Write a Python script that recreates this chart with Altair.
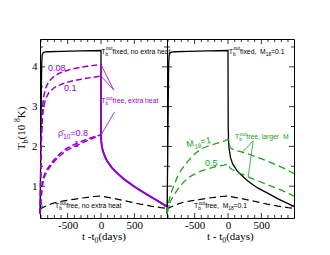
import altair as alt
import pandas as pd

# ------------------------------------------------------------------ data
# t - t0 (days) and T_b (1e8 K)
fixed_t = [-915, -905, -897, -892, -888, -882, -870, -850, -800, -600, -300, 0]
fixed_v = [0.30, 1.60, 3.00, 3.80, 4.15, 4.30, 4.35, 4.37, 4.38, 4.39, 4.40, 4.41]

left_decay_t = [0, 5, 15, 30, 60, 100, 165, 250, 350, 500, 650, 800, 900, 990]
left_decay_v = [2.29, 2.12, 1.98, 1.88, 1.74, 1.61, 1.46, 1.32, 1.17, 0.99, 0.83, 0.68, 0.58, 0.49]

right_decay_t = [0, 1, 3, 8, 15, 39, 70, 139, 250, 337, 450, 587, 750, 900, 990]
right_decay_v = [4.41, 3.50, 2.55, 2.15, 1.96, 1.71, 1.56, 1.38, 1.20, 1.08, 0.95, 0.83, 0.68, 0.56, 0.49]

free_t = [-915, -880, -800, -735, -657, -560, -485, -409, -300, -200, -100, 0,
          100, 200, 337, 450, 587, 750, 900, 990]
free_v = [0.42, 0.46, 0.52, 0.56, 0.60, 0.63, 0.65, 0.67, 0.70, 0.72, 0.74, 0.75,
          0.72, 0.69, 0.64, 0.60, 0.55, 0.50, 0.46, 0.44]

heat_t = [-912, -905, -895, -880, -860, -830, -780, -700, -600, -450, -300, -150, 0]
p008_v = [0.30, 1.20, 2.30, 2.95, 3.25, 3.47, 3.64, 3.77, 3.86, 3.94, 3.99, 4.03, 4.06]
p01_v = [0.30, 1.10, 2.10, 2.70, 3.00, 3.20, 3.36, 3.48, 3.56, 3.64, 3.69, 3.73, 3.77]

rho_t = [-912, -900, -885, -866, -841, -800, -766, -716, -665, -600, -515, -415, -315, -215, -115, 0]
rho08_v = [0.30, 0.70, 1.00, 1.20, 1.32, 1.45, 1.53, 1.64, 1.74, 1.84, 1.95, 2.04, 2.11, 2.18, 2.24, 2.29]
rho1_v = [0.30, 0.66, 0.95, 1.15, 1.27, 1.40, 1.48, 1.59, 1.69, 1.79, 1.90, 1.99, 2.06, 2.14, 2.21, 2.29]

drop_t = [0, 0]
drop_v = [4.06, 2.29]

m1_t = [-912, -900, -880, -850, -806, -757, -707, -600, -500, -409, -300, -160, -60, 0,
        30, 64, 200, 337, 587, 800, 990]
m1_v = [0.30, 0.50, 0.67, 0.85, 1.04, 1.24, 1.40, 1.63, 1.81, 1.93, 2.01, 2.08, 2.13, 2.18,
        1.98, 1.93, 1.86, 1.79, 1.63, 1.48, 1.32]
m05_t = [-912, -900, -880, -850, -806, -750, -657, -550, -409, -300, -160, -60, 0,
         30, 60, 200, 337, 587, 800, 990]
m05_v = [0.30, 0.42, 0.55, 0.67, 0.79, 0.93, 1.12, 1.26, 1.38, 1.44, 1.50, 1.53, 1.56,
         1.46, 1.42, 1.31, 1.21, 1.04, 0.90, 0.75]

# leader lines (t1, v1, t2, v2)
left_leaders = [(5, 4.04, 190, 3.42), (5, 3.76, 190, 3.42), (5, 2.30, 205, 2.87)]
right_leaders = [(378, 2.14, 213, 1.85), (378, 2.14, 303, 1.24)]

x_major = [-500, 0, 500]
x_minor = [-900, -800, -700, -600, -400, -300, -200, -100, 100, 200, 300, 400, 600, 700, 800, 900]
y_major = [1, 2, 3, 4]
y_minor = [0.5, 1.5, 2.5, 3.5, 4.5]

# ------------------------------------------------------------------ style
W, H = 127, 179
XDOM = [-915, 990]
YDOM = [0.2, 4.7]
PURPLE = "#9400D3"
GREEN = "#22A022"
BLACK = "#000000"
SANS = "Liberation Sans"
SERIF = "Liberation Serif"

HELV = {' ': 278, 'a': 556, 'b': 556, 'c': 500, 'd': 556, 'e': 556, 'f': 278, 'g': 556,
        'h': 556, 'i': 222, 'l': 222, 'n': 556, 'o': 556, 'r': 333, 's': 500, 't': 278,
        'u': 556, 'x': 500, 'y': 500, 'T': 611, 'M': 833, 'Ṁ': 833, ',': 278, '.': 278,
        '=': 584, 'ρ': 580, '\u0304': 0, '(': 333, ')': 333, '-': 333}
TIMES = {' ': 250, 't': 278, '-': 333, '(': 333, ')': 333, 'd': 500, 'a': 444, 'y': 500,
         's': 389, 'T': 611, 'b': 500, 'K': 722}


def tw(s, size, table, default):
    return sum(table.get(c, default) for c in s) * size / 1000.0


XAXIS = alt.Axis(values=x_major, labelExpr="'' + datum.value", ticks=False, domain=False,
                 grid=False, labelFont=SERIF, labelFontSize=11, labelPadding=1,
                 labelColor="black", title=None)
YAXIS = alt.Axis(values=y_major, ticks=False, domain=False, grid=False, labelFont=SERIF,
                 labelFontSize=11, labelPadding=3, labelColor="black", title=None)


def X(field="t"):
    return alt.X(f"{field}:Q", scale=alt.Scale(domain=XDOM, nice=False, zero=False), axis=XAXIS)


def Y(yaxis, field="v"):
    return alt.Y(f"{field}:Q", scale=alt.Scale(domain=YDOM, nice=False, zero=False), axis=yaxis)


def rich(pieces, size, color, font, table, default, data, enc, angle=0):
    layers = []
    pos = 0.0

    def piece(txt, dx, dy, fs):
        return alt.Chart(data).mark_text(text=txt, align="left", baseline="alphabetic",
                                         dx=round(dx, 2), dy=round(dy, 2), fontSize=round(fs, 2),
                                         font=font, color=color, angle=angle).encode(**enc)

    for p in pieces:
        kind = p[0]
        if kind == "n":
            layers.append(piece(p[1], pos, 0, size))
            pos += tw(p[1], size, table, default)
        elif kind == "sub":
            s = size * 0.7
            layers.append(piece(p[1], pos, size * 0.3, s))
            pos += tw(p[1], s, table, default)
        elif kind == "sup":
            s = size * 0.7
            layers.append(piece(p[1], pos, -size * 0.45, s))
            pos += tw(p[1], s, table, default)
        elif kind == "ss":
            s = size * 0.7
            layers.append(piece(p[1], pos, size * 0.3, s))
            layers.append(piece(p[2], pos + 0.5, -size * 0.5, s))
            pos += max(tw(p[1], s, table, default), tw(p[2], s, table, default) + 0.5)
    return layers


def data_label(t, v, pieces, size, color, yaxis, angle=0):
    df = pd.DataFrame({"t": [t], "v": [v]})
    return rich(pieces, size, color, SANS, HELV, 556, df, dict(x=X(), y=Y(yaxis)), angle)


def pix_label(px, py, pieces, size, angle=0):
    df = pd.DataFrame({"t": [0]})
    return rich(pieces, size, "black", SERIF, TIMES, 500, df,
                dict(x=alt.value(px), y=alt.value(py)), angle)


def line(t, v, color, yaxis, dash=None, width=1.2):
    df = pd.DataFrame({"t": t, "v": v, "i": list(range(len(t)))})
    mk = dict(color=color, strokeWidth=width)
    if dash:
        mk["strokeDash"] = dash
    return alt.Chart(df).mark_line(**mk).encode(x=X(), y=Y(yaxis), order="i:Q")


def leaders(segs, color, yaxis):
    df = pd.DataFrame(segs, columns=["t", "v", "t2", "v2"])
    return alt.Chart(df).mark_rule(color=color, strokeWidth=0.8).encode(
        x=X(), y=Y(yaxis), x2="t2:Q", y2="v2:Q")


def ticks(yaxis):
    out = []
    for vals, ln in ((x_major, 5), (x_minor, 3)):
        df = pd.DataFrame({"t": vals})
        out.append(alt.Chart(df).mark_rule(color="black", strokeWidth=0.8).encode(
            x=X(), y=alt.value(H), y2=alt.value(H - ln)))
        out.append(alt.Chart(df).mark_rule(color="black", strokeWidth=0.8).encode(
            x=X(), y=alt.value(0), y2=alt.value(ln)))
    for vals, ln in ((y_major, 5), (y_minor, 3)):
        df = pd.DataFrame({"v": vals})
        out.append(alt.Chart(df).mark_rule(color="black", strokeWidth=0.8).encode(
            y=Y(yaxis), x=alt.value(0), x2=alt.value(ln)))
        out.append(alt.Chart(df).mark_rule(color="black", strokeWidth=0.8).encode(
            y=Y(yaxis), x=alt.value(W - ln), x2=alt.value(W)))
    return out


TB = [("n", "T"), ("ss", "b", "out")]

# ------------------------------------------------------------------ left panel
ya = YAXIS
left_layers = ticks(ya) + [
    line(free_t, free_v, BLACK, ya, dash=[7, 4], width=1.2),
    line(fixed_t + left_decay_t, fixed_v + left_decay_v, BLACK, ya, width=1.3),
    line(heat_t, p008_v, PURPLE, ya, dash=[6, 3], width=1.5),
    line(heat_t, p01_v, PURPLE, ya, dash=[6, 3], width=1.5),
    line(rho_t, rho08_v, PURPLE, ya, dash=[6, 3], width=1.5),
    line(rho_t, rho1_v, PURPLE, ya, dash=[6, 3], width=1.5),
    line(drop_t, drop_v, PURPLE, ya, width=1.5),
    line(left_decay_t, left_decay_v, PURPLE, ya, width=2.0),
    leaders(left_leaders, PURPLE, ya),
]
left_layers += data_label(5, 4.33, TB + [("n", " fixed, no extra heat")], 6.8, BLACK, ya)
left_layers += data_label(-795, 3.90, [("n", "0.08")], 9, PURPLE, ya)
left_layers += data_label(-555, 3.40, [("n", "0.1")], 9, PURPLE, ya)
left_layers += data_label(-645, 2.26, [("n", "ρ\u0304"), ("sub", "10"), ("n", "=0.8")], 9, PURPLE, ya)
left_layers += data_label(-405, 1.98, [("n", "1")], 9, PURPLE, ya)
left_layers += data_label(5, 3.08, TB + [("n", " free, extra heat")], 6.8, PURPLE, ya)
left_layers += data_label(-690, 0.44, TB + [("n", " free, no extra heat")], 6.8, BLACK, ya)
left_layers += pix_label(42, H + 22, [("n", "t -t"), ("sub", "0"), ("n", "(days)")], 11)
left_layers += pix_label(-15, 111, [("n", "T"), ("sub", "b"), ("n", " (10"), ("sup", "8"), ("n", " K)")],
                         11, angle=270)
left = alt.layer(*left_layers).properties(width=W, height=H)

# ------------------------------------------------------------------ right panel
yb = None
right_layers = ticks(yb) + [
    line(free_t, free_v, BLACK, yb, dash=[7, 4], width=1.2),
    line(fixed_t + right_decay_t, fixed_v + right_decay_v, BLACK, yb, width=1.3),
    line(m1_t, m1_v, GREEN, yb, dash=[7, 4], width=1.3),
    line(m05_t, m05_v, GREEN, yb, dash=[7, 4], width=1.3),
    leaders(right_leaders, GREEN, yb),
]
right_layers += data_label(12, 4.33, TB + [("n", " fixed, "), ("n", "Ṁ"), ("sub", "18"), ("n", "=0.1")],
                           6.8, BLACK, yb)
right_layers += data_label(-615, 1.97, [("n", "Ṁ"), ("sub", "18"), ("n", "=1")], 9, GREEN, yb, angle=349)
right_layers += data_label(-345, 1.50, [("n", "0.5")], 9, GREEN, yb)
right_layers += data_label(105, 2.18, TB + [("n", " free, larger "), ("n", "Ṁ")], 6.8, GREEN, yb)
right_layers += data_label(-510, 0.44, TB + [("n", " free, "), ("n", "Ṁ"), ("sub", "18"), ("n", "=0.1")],
                           6.8, BLACK, yb)
right_layers += pix_label(40, H + 22, [("n", "t - t"), ("sub", "0"), ("n", " (days)")], 11)
right = alt.layer(*right_layers).properties(width=W, height=H)

chart = alt.hconcat(left, right, spacing=0, bounds="flush").properties(
    padding={"left": 5, "top": 30, "right": 5, "bottom": 5}
).configure_view(stroke="black", strokeWidth=1)

chart.save("out.html", embed_options={"renderer": "svg", "actions": False})
